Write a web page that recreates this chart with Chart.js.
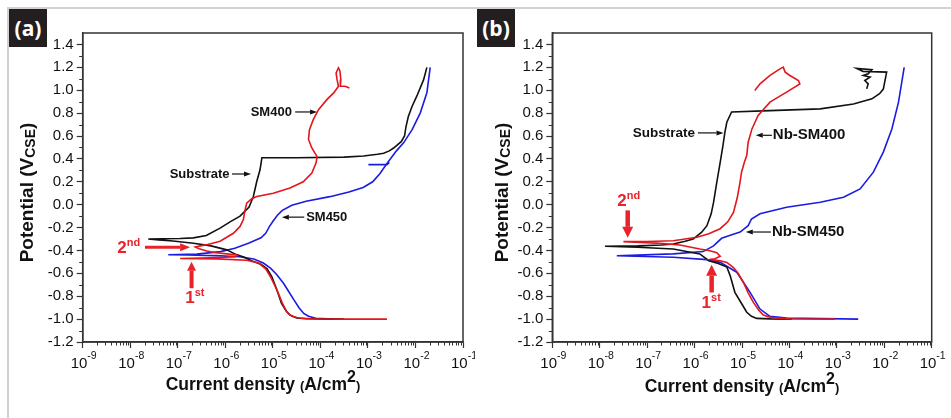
<!DOCTYPE html>
<html>
<head>
<meta charset="utf-8">
<script src="https://cdn.jsdelivr.net/npm/chart.js@4.4.1/dist/chart.umd.min.js"></script>
<style>
  body { margin: 0; background: #fff; }
  #wrap { position: relative; width: 951px; height: 418px; overflow: hidden; background: #fff; }
  .frameTop { position: absolute; left: 7px; top: 7px; width: 944px; height: 2px; background: #d2d2d2; }
  .frameLeft { position: absolute; left: 7px; top: 7px; width: 2px; height: 411px; background: #d2d2d2; }
  .tab { position: absolute; top: 9px; width: 38px; height: 38px; background: #231f20; color: #fff;
         font: 700 21px 'Open Sans', sans-serif; display: flex; align-items: center; justify-content: center; }
  canvas { position: absolute; top: 0; }
</style>
</head>
<body>
<div id="wrap">
  <div class="frameTop"></div>
  <div class="frameLeft"></div>
  <canvas id="chartA" width="475" height="418" style="left:0"></canvas>
  <canvas id="chartB" width="476" height="418" style="left:475px"></canvas>
  <div class="tab" style="left:9px">(a)</div>
  <div class="tab" style="left:477px">(b)</div>
</div>
<script>
// axis ticks
const yTickVals = [-1.2, -1.0, -0.8, -0.6, -0.4, -0.2, 0.0, 0.2, 0.4, 0.6, 0.8, 1.0, 1.2, 1.4];
const yMinorVals = [-1.1, -0.9, -0.7, -0.5, -0.3, -0.1, 0.1, 0.3, 0.5, 0.7, 0.9, 1.1, 1.3];
const xTickExps = [-9, -8, -7, -6, -5, -4, -3, -2, -1];

// panel (a): log10 of current density and potential (V vs CSE)
const aSubLogI = [-3.5, -4.3, -4.5, -4.64, -4.72, -4.82, -4.92, -5.02, -5.12, -5.25, -5.45, -5.6, -5.8, -5.97, -6.3, -6.67, -7.1, -7.4, -7.62,
  -7.3, -6.95, -6.67, -6.4, -6.11, -5.9, -5.69, -5.5, -5.41, -5.34, -5.27, -5.23, -4.5, -3.5, -3.09, -2.8, -2.67, -2.55, -2.46, -2.3, -2.23, -2.2, -2.15, -2.07, -1.97, -1.83, -1.76];
const aSubE = [-1.0, -0.997, -0.99, -0.965, -0.93, -0.86, -0.74, -0.63, -0.56, -0.52, -0.49, -0.46, -0.43, -0.395, -0.36, -0.337, -0.317, -0.308, -0.30,
  -0.298, -0.295, -0.29, -0.27, -0.205, -0.15, -0.10, -0.02, 0.072, 0.2, 0.305, 0.41, 0.41, 0.415, 0.425, 0.44, 0.45, 0.47, 0.495, 0.55, 0.6, 0.68, 0.77, 0.86, 0.95, 1.09, 1.2];

const aSm400LogI = [-2.6, -3.5, -4.2, -4.45, -4.6, -4.7, -4.8, -4.92, -5.05, -5.15, -5.3, -5.55, -6.18, -6.95,
  -6.5, -6.0, -5.79, -5.75, -5.97, -6.2, -6.39, -6.55, -6.63,
  -6.5, -6.39, -6.11, -5.83, -5.69, -5.62, -5.6, -5.58, -5.55, -5.45, -5.34, -4.99, -4.64, -4.36, -4.18, -4.09, -4.07, -4.18, -4.25, -4.23, -4.15, -4.04, -3.86, -3.72, -3.62, -3.65, -3.67, -3.62, -3.59, -3.57, -3.58, -3.48, -3.39];
const aSm400E = [-1.0, -1.0, -0.997, -0.99, -0.975, -0.94, -0.86, -0.74, -0.63, -0.56, -0.51, -0.485, -0.474, -0.47,
  -0.466, -0.46, -0.454, -0.44, -0.43, -0.42, -0.405, -0.385, -0.37,
  -0.358, -0.35, -0.32, -0.25, -0.19, -0.13, -0.08, -0.04, 0.014, 0.05, 0.072, 0.1, 0.145, 0.2, 0.276, 0.365, 0.42, 0.495, 0.57, 0.656, 0.743, 0.83, 0.92, 0.977, 1.035, 1.094, 1.15, 1.196, 1.17, 1.094, 1.035, 1.035, 1.02];

const aSm450LogI = [-3.7, -4.1, -4.25, -4.35, -4.45, -4.56, -4.68, -4.78, -4.92, -5.05, -5.2, -5.4, -5.7, -6.2, -6.8, -7.2,
  -6.6, -6.1, -5.8, -5.5, -5.25, -5.15, -5.07, -4.99, -4.9, -4.8, -4.6, -4.3, -3.8, -3.4, -3.1, -2.9, -2.75, -2.6, -2.4, -2.25, -2.07, -1.9, -1.76, -1.69];
const aSm450E = [-1.0, -0.993, -0.975, -0.95, -0.9, -0.83, -0.75, -0.685, -0.61, -0.555, -0.51, -0.475, -0.455, -0.445, -0.44, -0.437,
  -0.432, -0.41, -0.38, -0.335, -0.29, -0.25, -0.19, -0.14, -0.09, -0.05, -0.005, 0.03, 0.07, 0.11, 0.15, 0.2, 0.27, 0.36, 0.47, 0.54, 0.656, 0.8, 0.977, 1.2];
const aSm450StubLogI = [-2.99, -2.6, -2.55];
const aSm450StubE = [0.35, 0.35, 0.37];

// panel (b)
const bSubLogI = [-3.95, -4.4, -4.69, -4.8, -4.9, -5.0, -5.15, -5.25, -5.32, -5.5, -5.7, -5.89, -6.45, -7.2, -7.89,
  -7.2, -6.7, -6.45, -6.2, -6.03, -5.85, -5.74, -5.65, -5.6, -5.53, -5.46, -5.4, -5.36, -5.32, -5.22, -4.41, -3.35, -2.65, -2.26, -2.1, -2.02, -1.95,
  -2.45, -2.58, -2.26, -2.34, -2.44, -2.3, -2.41, -2.34, -2.37];
const bSubE = [-1.0, -0.998, -0.994, -0.975, -0.94, -0.87, -0.766, -0.62, -0.545, -0.515, -0.49, -0.43, -0.387, -0.372, -0.364,
  -0.36, -0.352, -0.344, -0.32, -0.30, -0.24, -0.184, -0.08, 0.02, 0.2, 0.37, 0.52, 0.633, 0.72, 0.81, 0.822, 0.837, 0.88, 0.925, 0.97, 1.01, 1.158,
  1.165, 1.19, 1.18, 1.143, 1.129, 1.114, 1.085, 1.056, 1.012];

const bNb400LogI = [-3.04, -4.0, -4.3, -4.45, -4.55, -4.65, -4.76, -4.87, -4.97, -5.08, -5.18, -5.32, -5.46, -5.67,
  -5.57, -5.46, -5.53, -5.7, -5.89, -6.31, -6.8, -7.15, -7.5,
  -7.0, -6.45, -5.95, -5.7, -5.46, -5.3, -5.18, -5.1, -5.04, -5.01, -4.95, -4.9, -4.87, -4.79, -4.66, -4.41, -4.06, -3.78, -3.81, -3.99, -4.09, -4.13, -4.2, -4.41, -4.62, -4.73];
const bNb400E = [-1.0, -0.998, -0.99, -0.98, -0.965, -0.92, -0.854, -0.77, -0.68, -0.6, -0.55, -0.505, -0.49, -0.478,
  -0.472, -0.45, -0.42, -0.4, -0.387, -0.352, -0.336, -0.33, -0.323,
  -0.322, -0.315, -0.285, -0.255, -0.21, -0.15, -0.067, 0.06, 0.2, 0.284, 0.37, 0.43, 0.546, 0.662, 0.779, 0.896, 0.983, 1.056, 1.085, 1.129, 1.158, 1.202, 1.187, 1.129, 1.056, 0.998];

const bNb450LogI = [-2.55, -4.06, -4.41, -4.62, -4.83, -5.11, -5.46, -5.74, -6.45, -7.64,
  -6.45, -5.82, -5.6, -5.43, -5.2, -5.04, -4.87, -4.8, -4.62, -4.06, -3.35, -2.86, -2.51, -2.23, -2.02, -1.84, -1.7, -1.58];
const bNb450E = [-1.0, -0.99, -0.976, -0.912, -0.766, -0.59, -0.504, -0.48, -0.46, -0.446,
  -0.43, -0.41, -0.36, -0.294, -0.26, -0.24, -0.184, -0.125, -0.08, -0.023, 0.021, 0.065, 0.138, 0.284, 0.459, 0.662, 0.896, 1.2];

const RED = '#e3161c', BLUE = '#1c1ce0', BLACK = '#111111', ARED = '#e8232a';
const FONT = "'Liberation Sans', Arial, sans-serif";

function pts(logI, E) {
  return logI.map((l, i) => ({ x: Math.pow(10, l), y: E[i] }));
}

function drawRich(ctx, parts, x, y, align) {
  let w = 0;
  parts.forEach(p => { ctx.font = p.font; p.w = ctx.measureText(p.t).width; w += p.w; });
  let cx = align === 'center' ? x - w / 2 : align === 'right' ? x - w : x;
  parts.forEach(p => { ctx.font = p.font; ctx.fillText(p.t, cx, y + (p.dy || 0)); cx += p.w; });
}

function arrow(ctx, x1, y1, x2, y2, color, lw, headLen, headW) {
  const ang = Math.atan2(y2 - y1, x2 - x1);
  const bx = x2 - headLen * Math.cos(ang), by = y2 - headLen * Math.sin(ang);
  ctx.strokeStyle = color; ctx.fillStyle = color; ctx.lineWidth = lw;
  ctx.beginPath(); ctx.moveTo(x1, y1); ctx.lineTo(bx, by); ctx.stroke();
  ctx.beginPath(); ctx.moveTo(x2, y2);
  ctx.lineTo(bx + headW / 2 * Math.sin(ang), by - headW / 2 * Math.cos(ang));
  ctx.lineTo(bx - headW / 2 * Math.sin(ang), by + headW / 2 * Math.cos(ang));
  ctx.closePath(); ctx.fill();
}

function makeDecor(cfg) {
  return {
    id: 'decor',
    afterDatasetsDraw(chart) {
      const { ctx, scales: { x, y } } = chart;
      const X = v => x.getPixelForValue(Math.pow(10, v));
      const Y = v => y.getPixelForValue(v);
      ctx.save();
      cfg.notes.forEach(n => {
        if (n.kind === 'label') {
          ctx.fillStyle = BLACK; ctx.textBaseline = 'middle';
          drawRich(ctx, [{ t: n.text, font: 'bold ' + n.size + 'px ' + FONT }], X(n.x), Y(n.y), n.align);
        } else if (n.kind === 'arrow') {
          arrow(ctx, X(n.x1), Y(n.y1), X(n.x2), Y(n.y2), n.red ? ARED : BLACK, n.lw, n.hl, n.hw);
        } else if (n.kind === 'ord') {
          ctx.fillStyle = ARED; ctx.textBaseline = 'alphabetic';
          drawRich(ctx, [{ t: n.main, font: 'bold 17px ' + FONT }, { t: n.sup, font: 'bold 11px ' + FONT, dy: -7 }], X(n.x), Y(n.y), n.align);
        }
      });
      ctx.restore();
    },
    afterDraw(chart) {
      const { ctx, chartArea: ca, scales: { x, y } } = chart;
      ctx.save();
      ctx.strokeStyle = '#333'; ctx.lineWidth = 1.5;
      ctx.strokeRect(ca.left, ca.top, ca.right - ca.left, ca.bottom - ca.top);
      ctx.lineWidth = 1;
      ctx.beginPath();
      for (let e = -9; e < -1; e++) {
        for (let k = 2; k <= 9; k++) {
          const px = Math.round(x.getPixelForValue(k * Math.pow(10, e))) + 0.5;
          ctx.moveTo(px, ca.bottom); ctx.lineTo(px, ca.bottom + 3.5);
        }
      }
      yMinorVals.forEach(v => {
        const py = Math.round(y.getPixelForValue(v)) + 0.5;
        ctx.moveTo(ca.left - 3.5, py); ctx.lineTo(ca.left, py);
      });
      ctx.stroke();
      // x tick labels 10^n
      ctx.fillStyle = '#111'; ctx.textBaseline = 'alphabetic';
      xTickExps.forEach(e => {
        drawRich(ctx, [{ t: '10', font: '15px ' + FONT }, { t: String(e), font: '10.5px ' + FONT, dy: -9 }],
          x.getPixelForValue(Math.pow(10, e)) + 1, ca.bottom + 26, 'center');
      });
      // x title
      drawRich(ctx, [
        { t: 'Current density ', font: 'bold 17.5px ' + FONT },
        { t: '(', font: 'bold 13px ' + FONT },
        { t: 'A/cm', font: 'bold 17.5px ' + FONT },
        { t: '2', font: 'bold 16px ' + FONT, dy: -8 },
        { t: ')', font: 'bold 13px ' + FONT }
      ], cfg.titleCx, cfg.titleBase, 'center');
      // y title
      ctx.translate(33, 192.5);
      ctx.rotate(-Math.PI / 2);
      drawRich(ctx, [
        { t: 'Potential (V', font: 'bold 19px ' + FONT },
        { t: 'CSE', font: 'bold 14px ' + FONT, dy: 1.5 },
        { t: ')', font: 'bold 19px ' + FONT }
      ], 0, 0, 'center');
      ctx.restore();
    }
  };
}

function makeChart(id, series, cfg) {
  new Chart(document.getElementById(id), {
    type: 'scatter',
    data: {
      datasets: series.map(s => ({
        data: pts(s.logI, s.E),
        showLine: true, borderColor: s.color, backgroundColor: s.color,
        borderWidth: 1.6, pointRadius: 0, tension: 0
      }))
    },
    options: {
      responsive: false, animation: false,
      layout: { padding: { left: 0, right: cfg.padRight, top: 33, bottom: 0 } },
      plugins: { legend: { display: false }, tooltip: { enabled: false } },
      scales: {
        x: {
          type: 'logarithmic', min: 1e-9, max: 1e-1,
          afterBuildTicks: s => { s.ticks = xTickExps.map(e => ({ value: Math.pow(10, e) })); },
          afterFit: s => { s.height = 76; },
          ticks: { display: false },
          grid: { drawOnChartArea: false, drawTicks: true, tickLength: 6, color: '#333', tickWidth: 1.2 },
          border: { color: '#333', width: 1.5 }
        },
        y: {
          type: 'linear', min: -1.2, max: 1.5,
          afterBuildTicks: s => { s.ticks = yTickVals.map(v => ({ value: v })); },
          afterFit: s => { s.width = cfg.yWidth; },
          ticks: { color: '#111', padding: 3, font: { family: FONT, size: 15 }, callback: v => v.toFixed(1) },
          grid: { drawOnChartArea: false, drawTicks: true, tickLength: 6, color: '#333', tickWidth: 1.2 },
          border: { color: '#333', width: 1.5 }
        }
      }
    },
    plugins: [makeDecor(cfg)]
  });
}

makeChart('chartA', [
  { logI: aSm400LogI, E: aSm400E, color: RED },
  { logI: aSubLogI, E: aSubE, color: BLACK },
  { logI: aSm450LogI, E: aSm450E, color: BLUE },
  { logI: aSm450StubLogI, E: aSm450StubE, color: BLUE }
], {
  yWidth: 82.7, padRight: 12, titleCx: 263, titleBase: 390,
  notes: [
    { kind: 'label', text: 'SM400', x: -4.6, y: 0.81, align: 'right', size: 13 },
    { kind: 'arrow', x1: -4.53, y1: 0.81, x2: -4.07, y2: 0.81, lw: 1.2, hl: 7, hw: 5 },
    { kind: 'label', text: 'Substrate', x: -5.91, y: 0.268, align: 'right', size: 13 },
    { kind: 'arrow', x1: -5.86, y1: 0.268, x2: -5.46, y2: 0.268, lw: 1.2, hl: 7, hw: 5 },
    { kind: 'label', text: 'SM450', x: -4.30, y: -0.109, align: 'left', size: 13 },
    { kind: 'arrow', x1: -4.34, y1: -0.109, x2: -4.81, y2: -0.109, lw: 1.2, hl: 7, hw: 5 },
    { kind: 'ord', main: '2', sup: 'nd', x: -7.79, y: -0.424, align: 'right' },
    { kind: 'arrow', red: true, x1: -7.69, y1: -0.371, x2: -6.74, y2: -0.371, lw: 3, hl: 10, hw: 8 },
    { kind: 'arrow', red: true, x1: -6.71, y1: -0.73, x2: -6.71, y2: -0.498, lw: 4, hl: 9, hw: 9 },
    { kind: 'ord', main: '1', sup: 'st', x: -6.64, y: -0.86, align: 'center' }
  ]
});

makeChart('chartB', [
  { logI: bNb400LogI, E: bNb400E, color: RED },
  { logI: bSubLogI, E: bSubE, color: BLACK },
  { logI: bNb450LogI, E: bNb450E, color: BLUE }
], {
  yWidth: 77.3, padRight: 19.3, titleCx: 267, titleBase: 392,
  notes: [
    { kind: 'label', text: 'Substrate', x: -5.99, y: 0.627, align: 'right', size: 13.5 },
    { kind: 'arrow', x1: -5.93, y1: 0.627, x2: -5.39, y2: 0.627, lw: 1.2, hl: 7, hw: 5 },
    { kind: 'label', text: 'Nb-SM400', x: -4.35, y: 0.606, align: 'left', size: 15 },
    { kind: 'arrow', x1: -4.37, y1: 0.606, x2: -4.71, y2: 0.606, lw: 1.2, hl: 7, hw: 5 },
    { kind: 'label', text: 'Nb-SM450', x: -4.37, y: -0.239, align: 'left', size: 15 },
    { kind: 'arrow', x1: -4.39, y1: -0.239, x2: -4.92, y2: -0.239, lw: 1.2, hl: 7, hw: 5 },
    { kind: 'ord', main: '2', sup: 'nd', x: -7.39, y: -0.015, align: 'center' },
    { kind: 'arrow', red: true, x1: -7.41, y1: -0.05, x2: -7.41, y2: -0.29, lw: 4.5, hl: 11, hw: 11 },
    { kind: 'arrow', red: true, x1: -5.64, y1: -0.767, x2: -5.64, y2: -0.525, lw: 4.5, hl: 11, hw: 11 },
    { kind: 'ord', main: '1', sup: 'st', x: -5.65, y: -0.904, align: 'center' }
  ]
});
</script>
</body>
</html>
